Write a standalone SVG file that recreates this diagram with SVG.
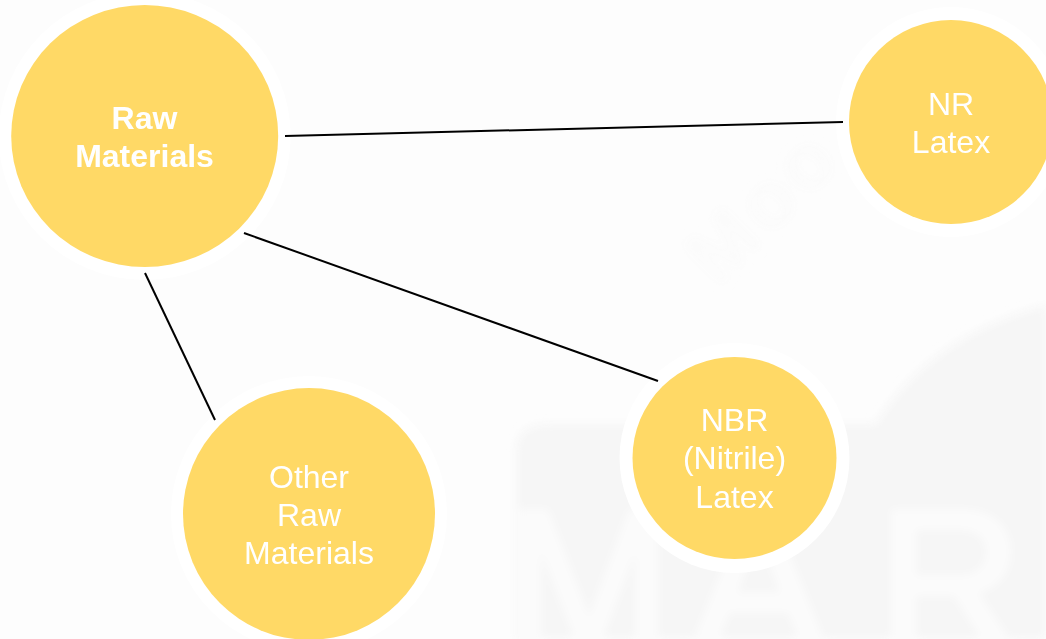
<svg xmlns="http://www.w3.org/2000/svg" width="1046" height="639" viewBox="0 0 1046 639">
<defs>
<filter id="blur" x="-10%" y="-10%" width="120%" height="120%"><feGaussianBlur stdDeviation="4"/></filter>
</defs>
<style>
.h{fill:#FFFFFF}
.n{fill:#FFD966}
.t{font-family:"Liberation Sans",Arial,sans-serif;font-size:32px;fill:#FFFFFF;text-anchor:middle}
.b{font-weight:bold}
.c{stroke:#000;stroke-width:2;fill:none}
.wm{font-family:"Liberation Sans",Arial,sans-serif}
</style>
<rect width="1046" height="639" fill="#FDFDFD"/>
<g id="watermark" filter="url(#blur)">
<path d="M516 639V450Q516 426 545 424H875Q930 335 1046 305V639Z" fill="#F6F6F6"/>
<text class="wm" y="650" font-size="200" fill="#FBFBFB" stroke="#FBFBFB" stroke-width="6"><tspan x="505">M</tspan><tspan x="692">A</tspan><tspan x="878">R</tspan></text>
<text class="wm" x="718" y="288" font-size="80" font-weight="bold" letter-spacing="5" fill="#FBFBFB" transform="rotate(-45 718 288)">Moo</text>
</g>
<g id="raw-materials"><ellipse class="h" cx="144.7" cy="136" rx="146" ry="144"/><ellipse class="n" cx="144.7" cy="136" rx="133.5" ry="131"/><text class="t b" x="144.5" y="129">Raw</text><text class="t b" x="144.5" y="167">Materials</text></g>
<g id="nr-latex"><circle class="h" cx="951" cy="122" r="115"/><circle class="n" cx="951" cy="122" r="102"/><text class="t" x="951" y="115">NR</text><text class="t" x="951" y="153">Latex</text></g>
<g id="nbr-latex"><ellipse class="h" cx="734.5" cy="458" rx="115" ry="115"/><ellipse class="n" cx="734.5" cy="458" rx="102" ry="101"/><text class="t" x="734.5" y="431">NBR</text><text class="t" x="734.5" y="469">(Nitrile)</text><text class="t" x="734.5" y="508">Latex</text></g>
<g id="other-raw-materials"><circle class="h" cx="309" cy="514" r="138"/><circle class="n" cx="309" cy="514" r="126"/><text class="t" x="309" y="488">Other</text><text class="t" x="309" y="526">Raw</text><text class="t" x="309" y="564">Materials</text></g>
<g id="connectors">
<line class="c" x1="285" y1="136" x2="843" y2="122"/>
<line class="c" x1="244" y1="233" x2="658" y2="381"/>
<line class="c" x1="145" y1="273" x2="215" y2="420"/>
</g>
</svg>
